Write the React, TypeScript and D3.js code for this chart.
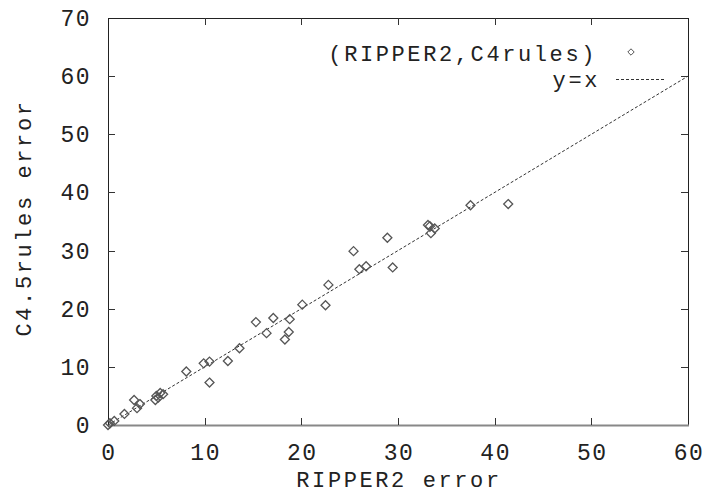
import React, { useEffect, useRef } from 'react';
import * as d3 from 'd3';

// (RIPPER2 error, C4.5rules error) pairs
const ripperErr = [0, 0.2, 0.65, 1.7, 3.0, 2.7, 3.3, 4.9, 5.0, 5.2, 5.4, 5.7, 8.1, 9.9, 10.5, 10.5, 12.4, 13.6, 15.3, 16.4, 17.1, 18.3, 18.7, 18.8, 20.1, 22.5, 22.8, 25.4, 26.0, 26.7, 28.9, 29.45, 33.1, 33.3, 33.4, 33.8, 37.5, 41.4];
const c45Err = [0, 0.3, 0.7, 1.9, 2.9, 4.3, 3.6, 4.3, 5.0, 4.7, 5.5, 5.3, 9.2, 10.6, 10.9, 7.3, 11.0, 13.2, 17.7, 15.8, 18.4, 14.7, 16.0, 18.2, 20.7, 20.6, 24.1, 29.9, 26.8, 27.3, 32.2, 27.1, 34.4, 34.2, 33.0, 33.8, 37.8, 38.0];

const xTicks = [0, 10, 20, 30, 40, 50, 60];
const yTicks = [0, 10, 20, 30, 40, 50, 60, 70];
const diagLine = [0, 60];

const FONT = '"Liberation Mono", "Courier New", monospace';

export default function App() {
  const svgRef = useRef<SVGSVGElement>(null);

  useEffect(() => {
    const width = 704;
    const height = 494;
    const margin = { top: 18, right: 16, bottom: 69, left: 108 };
    const tickLen = 7;

    const svg = d3.select(svgRef.current);
    svg.selectAll('*').remove();
    svg.attr('width', width).attr('height', height);

    const x = d3.scaleLinear().domain([0, 60]).range([margin.left, width - margin.right]);
    const y = d3.scaleLinear().domain([0, 70]).range([height - margin.bottom, margin.top]);

    const x0 = x(0), x1 = x(60), y0 = y(0), y1 = y(70);

    // frame
    const frame = svg.append('g').attr('fill', 'none');
    frame.append('line').attr('x1', x0).attr('x2', x1).attr('y1', y1 + 0.5).attr('y2', y1 + 0.5).attr('stroke', '#222');
    frame.append('line').attr('x1', x1 + 0.5).attr('x2', x1 + 0.5).attr('y1', y1).attr('y2', y0).attr('stroke', '#222');
    frame.append('line').attr('x1', x0 + 0.5).attr('x2', x0 + 0.5).attr('y1', y1).attr('y2', y0).attr('stroke', '#222');
    frame.append('line').attr('x1', x0).attr('x2', x1 + 1).attr('y1', y0 + 0.5).attr('y2', y0 + 0.5).attr('stroke', '#888').attr('stroke-width', 2);

    // inward ticks
    const ticks = svg.append('g').attr('stroke', '#333').attr('stroke-width', 1);
    xTicks.slice(1, -1).forEach(t => {
      const px = Math.round(x(t)) + 0.5;
      ticks.append('line').attr('x1', px).attr('x2', px).attr('y1', y0).attr('y2', y0 - tickLen);
      ticks.append('line').attr('x1', px).attr('x2', px).attr('y1', y1).attr('y2', y1 + tickLen);
    });
    yTicks.slice(1, -1).forEach(t => {
      const py = Math.round(y(t)) + 0.5;
      ticks.append('line').attr('x1', x0).attr('x2', x0 + tickLen).attr('y1', py).attr('y2', py);
      ticks.append('line').attr('x1', x1).attr('x2', x1 - tickLen).attr('y1', py).attr('y2', py);
    });

    // tick labels
    const labels = svg.append('g')
      .attr('font-family', FONT).attr('font-size', 23).attr('letter-spacing', 1.5).attr('fill', '#222');
    xTicks.forEach(t => {
      labels.append('text').attr('x', x(t) + 1).attr('y', y0 + 35).attr('text-anchor', 'middle').text(t);
    });
    yTicks.forEach(t => {
      labels.append('text').attr('x', x0 - 17).attr('y', y(t) + 8).attr('text-anchor', 'end').text(t);
    });

    // axis titles
    svg.append('text')
      .attr('x', (x0 + x1) / 2 + 1).attr('y', y0 + 62)
      .attr('text-anchor', 'middle')
      .attr('font-family', FONT).attr('font-size', 22).attr('letter-spacing', 2.6).attr('fill', '#222')
      .text('RIPPER2 error');
    svg.append('text')
      .attr('transform', `translate(31,218) rotate(-90)`)
      .attr('text-anchor', 'middle')
      .attr('font-family', FONT).attr('font-size', 22).attr('letter-spacing', 2.6).attr('fill', '#222')
      .text('C4.5rules error');

    // y = x reference line
    svg.append('path')
      .datum(diagLine)
      .attr('fill', 'none')
      .attr('stroke', '#333')
      .attr('stroke-width', 1)
      .attr('stroke-dasharray', '3,2')
      .attr('d', d3.line<number>().x(d => x(d)).y(d => y(d)));

    const diamond = (cx: number, cy: number, r: number) =>
      `M${cx},${cy - r}L${cx + r},${cy}L${cx},${cy + r}L${cx - r},${cy}Z`;

    // points
    svg.append('g')
      .selectAll('path')
      .data(ripperErr.map((v, i) => [v, c45Err[i]]))
      .join('path')
      .attr('d', d => diamond(x(d[0]), y(d[1]), 4.5))
      .attr('fill', 'none')
      .attr('stroke', '#555')
      .attr('stroke-width', 1.3);

    // legend
    const legend = svg.append('g')
      .attr('font-family', FONT).attr('font-size', 22).attr('letter-spacing', 2.6).attr('fill', '#222');
    legend.append('text').attr('x', 597).attr('y', 61).attr('text-anchor', 'end').text('(RIPPER2,C4rules)');
    legend.append('path').attr('d', diamond(631, 52, 3.2)).attr('fill', 'none').attr('stroke', '#555').attr('stroke-width', 1);
    legend.append('text').attr('x', 600).attr('y', 87).attr('text-anchor', 'end').text('y=x');
    legend.append('line')
      .attr('x1', 616).attr('x2', 665).attr('y1', 79.5).attr('y2', 79.5)
      .attr('stroke', '#333').attr('stroke-width', 1).attr('stroke-dasharray', '3,2');
  }, []);

  return (
    <div style={{ position: 'absolute', left: 0, top: 0 }}>
      <svg ref={svgRef} style={{ display: 'block', background: '#fff' }}></svg>
    </div>
  );
}
